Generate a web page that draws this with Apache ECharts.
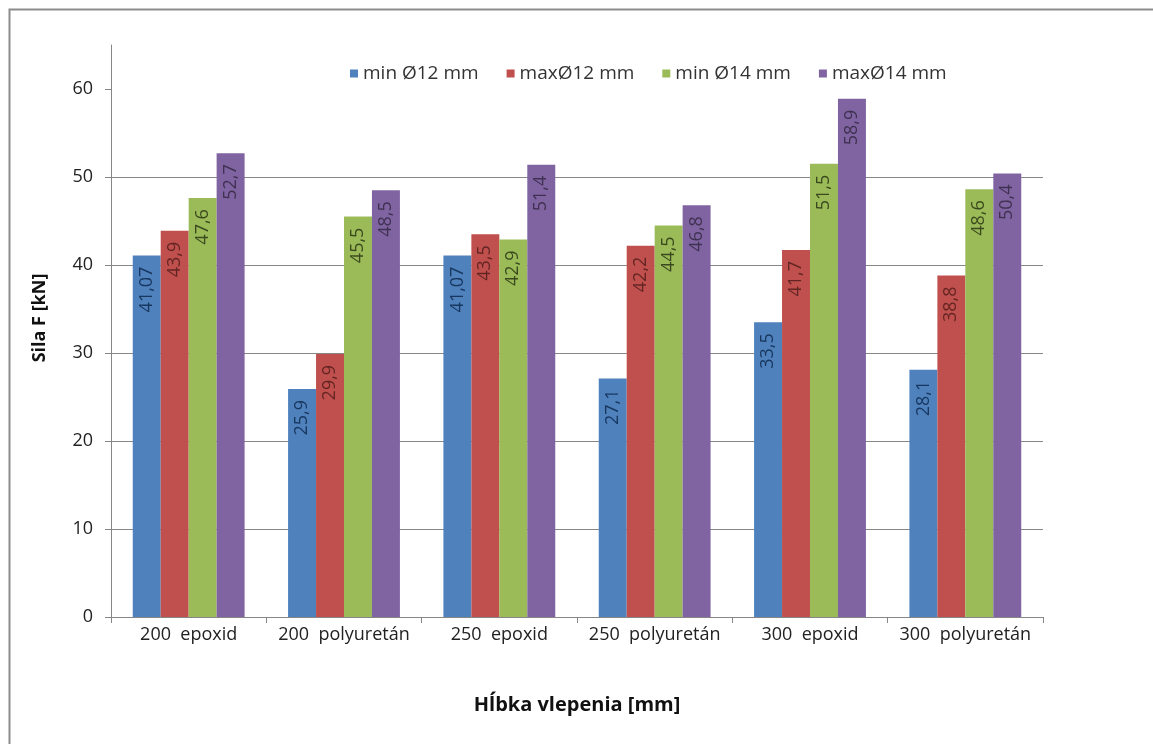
<!DOCTYPE html>
<html>
<head>
<meta charset="utf-8">
<script src="https://cdn.jsdelivr.net/npm/echarts@6/dist/echarts.min.js"></script>
<style>
  html, body { margin: 0; padding: 0; background: #fff; }
  #chart { width: 1153px; height: 744px; }
</style>
</head>
<body>
<div id="chart"></div>
<script>
// Anchoring depth / adhesive type
const categories = ['200  epoxid', '200  polyuretán', '250  epoxid', '250  polyuretán', '300  epoxid', '300  polyuretán'];

// Force F [kN] per bar diameter
const minD12 = [41.07, 25.9, 41.07, 27.1, 33.5, 28.1];
const maxD12 = [43.9, 29.9, 43.5, 42.2, 41.7, 38.8];
const minD14 = [47.6, 45.5, 42.9, 44.5, 51.5, 48.6];
const maxD14 = [52.7, 48.5, 51.4, 46.8, 58.9, 50.4];

const seriesNames = ['min Ø12 mm', 'maxØ12 mm', 'min Ø14 mm', 'maxØ14 mm'];
const yTicks = [0, 10, 20, 30, 40, 50, 60];

const FONT = '"Open Sans", "Noto Sans", sans-serif';
const barColors = ['#4F81BD', '#C0504D', '#9BBB59', '#8064A2'];
const labelColors = ['#17375E', '#632523', '#3B4A1E', '#3F3151'];

function makeSeries(name, data, i) {
  return {
    name: name,
    type: 'bar',
    data: data,
    barGap: '0%',
    barCategoryGap: '28%',
    itemStyle: { color: barColors[i] },
    label: {
      show: true,
      position: 'insideTop',
      rotate: 90,
      align: 'right',
      verticalAlign: 'middle',
      distance: 11,
      fontFamily: FONT,
      fontSize: 18,
      color: labelColors[i],
      formatter: p => String(p.value).replace('.', ',')
    }
  };
}

const chart = echarts.init(document.getElementById('chart'), null, { renderer: 'canvas' });
chart.setOption({
  animation: false,
  backgroundColor: '#fff',
  textStyle: { fontFamily: FONT },
  graphic: [{
    // frame around the chart area (runs past the right and bottom edges)
    type: 'rect',
    shape: { x: 9.5, y: 9.5, width: 1170, height: 760 },
    style: { fill: 'none', stroke: '#8c8c8c', lineWidth: 2 },
    silent: true
  }],
  legend: {
    top: 59,
    left: 345,
    itemWidth: 8,
    itemHeight: 8,
    itemGap: 28,
    icon: 'rect',
    textStyle: { fontFamily: FONT, fontSize: 19, color: '#333' },
    data: seriesNames
  },
  grid: { left: 111, right: 110, top: 45, bottom: 127, containLabel: false },
  xAxis: {
    type: 'category',
    data: categories,
    name: 'Hĺbka vlepenia [mm]',
    nameLocation: 'middle',
    nameGap: 78,
    nameTextStyle: { fontFamily: FONT, fontSize: 20, fontWeight: 'bold', color: '#111' },
    axisLine: { lineStyle: { color: '#868686', width: 1 } },
    axisTick: { show: true, length: 6, lineStyle: { color: '#868686' } },
    axisLabel: { interval: 0, fontFamily: FONT, fontSize: 18, color: '#222', margin: 9 }
  },
  yAxis: {
    type: 'value',
    min: 0,
    max: 65,
    interval: 10,
    name: 'Sila F [kN]',
    nameLocation: 'middle',
    nameGap: 62,
    nameTextStyle: { fontFamily: FONT, fontSize: 18, fontWeight: 'bold', color: '#111', padding: [0, 0, 0, 26] },
    axisLine: { show: true, lineStyle: { color: '#868686', width: 1 } },
    axisTick: { show: true, length: 6, lineStyle: { color: '#868686' }, customValues: yTicks },
    axisLabel: { fontFamily: FONT, fontSize: 18, color: '#222', margin: 18, customValues: yTicks },
    splitLine: { show: true, showMaxLine: false, lineStyle: { color: '#868686', width: 1 } }
  },
  series: [
    makeSeries(seriesNames[0], minD12, 0),
    makeSeries(seriesNames[1], maxD12, 1),
    makeSeries(seriesNames[2], minD14, 2),
    makeSeries(seriesNames[3], maxD14, 3)
  ]
});
</script>
</body>
</html>
